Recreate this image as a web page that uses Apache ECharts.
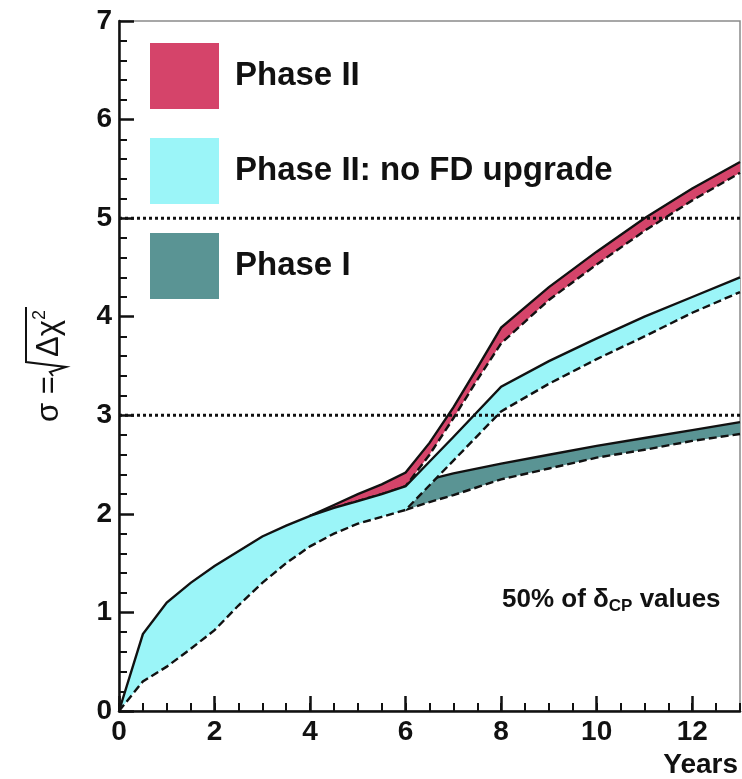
<!DOCTYPE html>
<html>
<head>
<meta charset="utf-8">
<script src="https://cdn.jsdelivr.net/npm/echarts@6/dist/echarts.min.js"></script>
<style>html,body{margin:0;padding:0;background:#fff;}#c{width:742px;height:779px;}</style>
</head>
<body>
<div id="c"></div>
<script>
// ---- data ----
const xTicks = [0, 2, 4, 6, 8, 10, 12];
const yTicks = [0, 1, 2, 3, 4, 5, 6, 7];
const refLines = [3, 5];

// Phase II: no FD upgrade (cyan)
const xCyan     = [0, 0.5, 1, 1.5, 2, 2.5, 3, 3.5, 4, 4.5, 5, 5.5, 6, 7, 8, 9, 10, 11, 12, 13];
const cyanUpper = [0, 0.78, 1.1, 1.3, 1.47, 1.62, 1.77, 1.88, 1.98, 2.06, 2.13, 2.2, 2.28, 2.78, 3.29, 3.55, 3.78, 4.0, 4.2, 4.4];
const cyanLower = [0, 0.3, 0.45, 0.63, 0.82, 1.07, 1.3, 1.5, 1.67, 1.8, 1.9, 1.97, 2.04, 2.54, 3.04, 3.32, 3.57, 3.8, 4.04, 4.25];

// Phase II (red)
const xRed     = [4, 4.5, 5, 5.5, 6, 6.5, 7, 7.5, 8, 9, 10, 11, 12, 13];
const redUpper = [1.98, 2.09, 2.2, 2.3, 2.42, 2.72, 3.08, 3.48, 3.89, 4.3, 4.66, 5.0, 5.3, 5.57];
const redLower = [1.98, 2.06, 2.13, 2.2, 2.28, 2.6, 2.97, 3.36, 3.73, 4.17, 4.53, 4.87, 5.18, 5.46];

// Phase I (teal)
const xTeal     = [6, 6.5, 7, 8, 9, 10, 11, 12, 13];
const tealUpper = [2.3, 2.35, 2.41, 2.51, 2.6, 2.69, 2.77, 2.85, 2.93];
const tealLower = [2.04, 2.12, 2.19, 2.35, 2.46, 2.57, 2.65, 2.74, 2.81];

const names = ['Phase II', 'Phase II: no FD upgrade', 'Phase I'];
const colors = ['#d5446a', '#9bf5f8', '#5a9494'];

const FONT = '"Liberation Sans", Arial, Helvetica, sans-serif';

function band(xs, up, lo, color) {
  return function (params, api) {
    const U = xs.map((x, i) => api.coord([x, up[i]]));
    const L = xs.map((x, i) => api.coord([x, lo[i]]));
    return {
      type: 'group',
      children: [
        { type: 'polygon', shape: { points: U.concat(L.slice().reverse()) }, style: { fill: color, stroke: null } },
        { type: 'polyline', shape: { points: L }, style: { stroke: '#111', lineWidth: 2.4, lineDash: [8, 4], fill: null } },
        { type: 'polyline', shape: { points: U }, style: { stroke: '#111', lineWidth: 2.4, fill: null } }
      ]
    };
  };
}

const chart = echarts.init(document.getElementById('c'), null, { renderer: 'canvas' });

const series = [
  { type: 'custom', name: names[2], renderItem: band(xTeal, tealUpper, tealLower, colors[2]), data: [[0, 0]], itemStyle: { color: colors[2] }, silent: true },
  { type: 'custom', name: names[0], renderItem: band(xRed, redUpper, redLower, colors[0]), data: [[0, 0]], itemStyle: { color: colors[0] }, silent: true },
  { type: 'custom', name: names[1], renderItem: band(xCyan, cyanUpper, cyanLower, colors[1]), data: [[0, 0]], itemStyle: { color: colors[1] }, silent: true }
];
refLines.forEach(v => {
  series.push({
    type: 'line', data: [[0, v], [13, v]], symbol: 'none', silent: true,
    lineStyle: { color: '#111', width: 3, type: [3, 3], cap: 'butt' }, z: 5
  });
});

chart.setOption({
  animation: false,
  backgroundColor: '#fff',
  grid: { left: 119, right: 2, top: 21, bottom: 68, show: true, borderColor: '#8a8a8a', borderWidth: 1.5, containLabel: false },
  legend: {
    orient: 'vertical', left: 150, top: 43, padding: 0,
    itemWidth: 69, itemHeight: 66, itemGap: 29,
    selectedMode: false,
    textStyle: { fontFamily: FONT, fontSize: 33, fontWeight: 'bold', color: '#111', padding: [0, 0, 0, 11] },
    data: names.map((n, i) => ({ name: n, icon: 'rect', itemStyle: { color: colors[i], borderWidth: 0 } }))
  },
  xAxis: [
    {
      type: 'value', min: 0, max: 13, interval: 2, position: 'bottom',
      axisLine: { show: true, lineStyle: { color: '#111', width: 2.5 } },
      axisTick: { show: true, inside: true, length: 15, lineStyle: { color: '#111', width: 2.5 }, customValues: xTicks },
      axisLabel: { show: true, customValues: xTicks, margin: 7, fontFamily: FONT, fontSize: 28, fontWeight: 'bold', color: '#111' },
      splitLine: { show: false }
    },
    {
      type: 'value', min: 0, max: 13, interval: 0.5, position: 'bottom',
      axisLine: { show: false },
      axisTick: { show: true, inside: true, length: 8, lineStyle: { color: '#111', width: 2 } },
      axisLabel: { show: false },
      splitLine: { show: false }
    }
  ],
  yAxis: {
    type: 'value', min: 0, max: 7, interval: 1,
    axisLine: { show: true, lineStyle: { color: '#111', width: 2.5 } },
    axisTick: { show: true, inside: true, length: 15, lineStyle: { color: '#111', width: 2.5 } },
    minorTick: { show: true, splitNumber: 5, length: 8, lineStyle: { color: '#111', width: 2 } },
    axisLabel: { margin: 7, fontFamily: FONT, fontSize: 28, fontWeight: 'bold', color: '#111',
      formatter: v => (yTicks.indexOf(v) >= 0 ? String(v) : '') },
    splitLine: { show: false }
  },
  graphic: [
    {
      type: 'group', x: 65, y: 422, rotation: Math.PI / 2, silent: true,
      children: [
        { type: 'text', x: 0, y: 0, style: { text: 'σ =', fontFamily: FONT, fontSize: 31, fill: '#111', align: 'left', verticalAlign: 'bottom' } },
        { type: 'polyline', shape: { points: [[46, -12], [50, -15], [55, 1], [60, -39], [115, -39]] }, style: { stroke: '#111', lineWidth: 2, fill: null } },
        { type: 'text', x: 65, y: 0, style: { text: 'Δχ', fontFamily: FONT, fontSize: 31, fill: '#111', align: 'left', verticalAlign: 'bottom' } },
        { type: 'text', x: 102, y: -16, style: { text: '2', fontFamily: FONT, fontSize: 18, fill: '#111', align: 'left', verticalAlign: 'bottom' } }
      ]
    },
    {
      type: 'text', left: 502, top: 587, silent: true,
      style: {
        text: '{a|50% of δ}{s|CP}{a| values}',
        rich: {
          a: { fontFamily: FONT, fontSize: 26, fontWeight: 'bold', fill: '#111', color: '#111' },
          s: { fontFamily: FONT, fontSize: 17, fontWeight: 'bold', fill: '#111', color: '#111', padding: [12, 0, 0, 0] }
        }
      }
    },
    {
      type: 'text', right: 4, top: 751, silent: true,
      style: { text: 'Years', fontFamily: FONT, fontSize: 28, fontWeight: 'bold', fill: '#111' }
    }
  ],
  series: series
});
</script>
</body>
</html>
